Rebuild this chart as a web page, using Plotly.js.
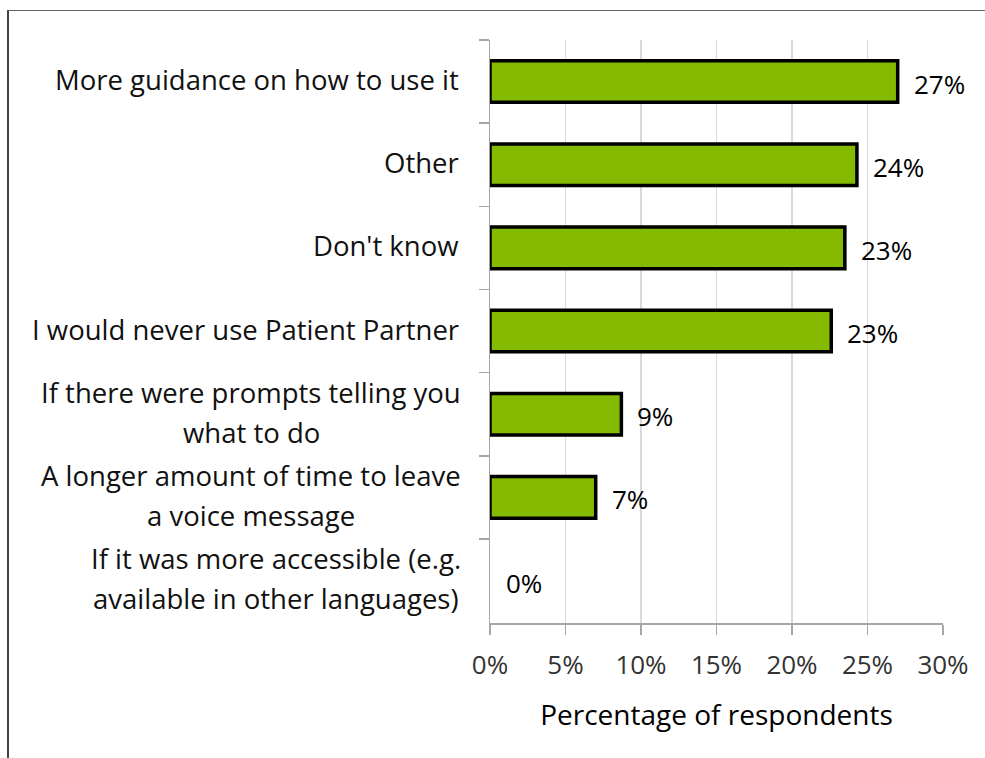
<!DOCTYPE html>
<html>
<head>
<meta charset="utf-8">
<script src="https://cdn.plot.ly/plotly-3.0.1.min.js"></script>
<style>
  html, body { margin: 0; padding: 0; background: #fff; }
  #wrap { position: relative; width: 985px; height: 758px; overflow: hidden; }
  #chart { position: absolute; left: 0; top: 0; width: 985px; height: 758px; }
  #frame { position: absolute; left: 7px; top: 10px; width: 1200px; height: 1000px;
           border-top: 1px solid #666; border-left: 2px solid #444; pointer-events: none; }
</style>
</head>
<body>
<div id="wrap">
  <div id="chart"></div>
  <div id="frame"></div>
</div>
<script>
// Categories (top to bottom)
const categories = [
  "More guidance on how to use it",
  "Other",
  "Don't know",
  "I would never use Patient Partner",
  "If there were prompts telling you<br>what to do",
  "A longer amount of time to leave<br>a voice message",
  "If it was more accessible (e.g.<br>available in other languages)"
];
// Percentage of respondents (bar lengths)
const values = [27.0, 24.3, 23.5, 22.6, 8.7, 7.0, 0];
// Printed value labels
const valueLabels = ["27%", "24%", "23%", "23%", "9%", "7%", "0%"];
// X tick values and labels
const xTickVals = [0, 5, 10, 15, 20, 25, 30];
const xTickText = ["0%", "5%", "10%", "15%", "20%", "25%", "30%"];

const FONT = "Open Sans, Lato, sans-serif";
const labelSize = 27.5;

const canvas = document.createElement("canvas");
const ctx = canvas.getContext("2d");
ctx.font = labelSize + "px 'Open Sans'";

const annotations = [];
// y category labels, each line placed separately (centered lines)
categories.forEach((lab, i) => {
  const lines = lab.split("<br>");
  const widths = lines.map(l => ctx.measureText(l).width);
  const maxW = Math.max(...widths);
  const lineGap = 40;
  lines.forEach((ln, k) => {
    const off = (k - (lines.length - 1) / 2) * lineGap;
    annotations.push({
      xref: "paper", yref: "y", x: 0, y: lab,
      text: ln, showarrow: false,
      xanchor: lines.length > 1 ? "center" : "right",
      xshift: lines.length > 1 ? -29 - maxW / 2 : -29,
      yshift: -off + 2,
      font: { family: FONT, size: labelSize, color: "#111" }
    });
  });
});
// value labels
values.forEach((v, i) => {
  annotations.push({
    xref: "x", yref: "y", x: v, y: categories[i],
    text: valueLabels[i], showarrow: false,
    xanchor: "left", xshift: 14, yshift: -2,
    font: { family: FONT, size: 26, color: "#000" }
  });
});

const trace = {
  type: "bar", orientation: "h",
  x: values, y: categories,
  width: 0.5,
  marker: { color: "#84BA00", line: { color: "#000", width: values.map(v => v > 0 ? 3.5 : 0) } },
  hoverinfo: "skip"
};

const layout = {
  width: 985, height: 758,
  margin: { l: 490, r: 42, t: 40, b: 135 },
  paper_bgcolor: "#fff", plot_bgcolor: "#fff",
  showlegend: false,
  font: { family: FONT, color: "#333" },
  xaxis: {
    range: [0, 30],
    tickvals: xTickVals, ticktext: xTickText,
    showgrid: true, gridcolor: "#d9d9d9", gridwidth: 1.5,
    zeroline: false,
    showline: true, linecolor: "#a6a6a6", linewidth: 1.5,
    ticks: "outside", ticklen: 10, tickcolor: "#a6a6a6", tickwidth: 1.5,
    ticklabelstandoff: 8,
    tickfont: { family: FONT, size: 26, color: "#333" },
    title: { text: "Percentage of respondents", standoff: 24,
             font: { family: FONT, size: 28, color: "#000" } },
    fixedrange: true
  },
  yaxis: {
    type: "category",
    categoryorder: "array", categoryarray: categories,
    autorange: "reversed",
    showticklabels: false,
    showgrid: false, zeroline: false,
    showline: true, linecolor: "#a6a6a6", linewidth: 1.5,
    ticks: "outside", tickson: "boundaries", ticklen: 10, tickcolor: "#a6a6a6", tickwidth: 1.5,
    fixedrange: true
  },
  annotations: annotations
};

Plotly.newPlot("chart", [trace], layout, { displayModeBar: false, staticPlot: true });
</script>
</body>
</html>
